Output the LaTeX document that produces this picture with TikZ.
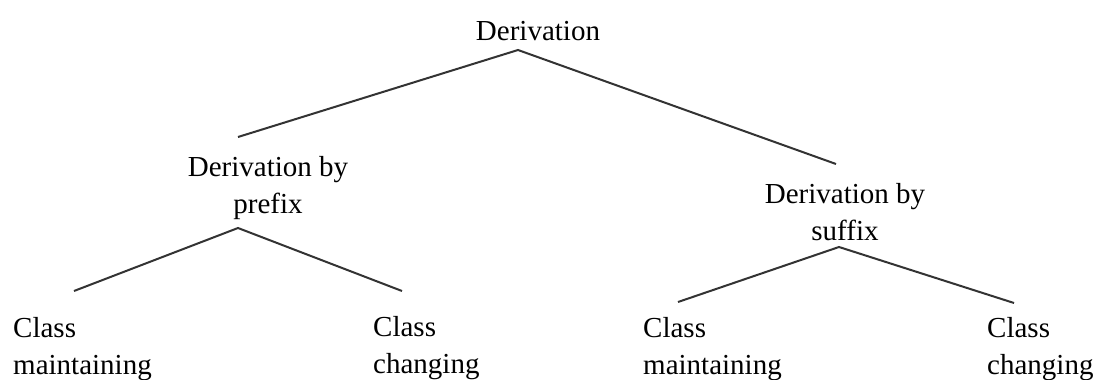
\documentclass[tikz,border=0pt]{standalone}
\usepackage{fontspec}
\setmainfont{Liberation Serif}
\begin{document}
\begin{tikzpicture}[x=1pt,y=-1pt,
  lbl/.style={inner sep=0pt, font=\fontsize{29}{37}\selectfont},
  edge/.style={line width=2pt, draw=black!80}]
\useasboundingbox (0,0) rectangle (1101,380);
\clip (0,0) rectangle (1101,380);
% texts (anchor=base is the baseline of the last line)
\node[lbl, anchor=base] (root) at (538,40) {Derivation};
\node[lbl, anchor=base, align=center] (pre) at (268,213) {Derivation by\\prefix};
\node[lbl, anchor=base, align=center] (suf) at (845,240) {Derivation by\\suffix};
\node[lbl, anchor=base west, align=left] (pm) at (13,374) {Class\\maintaining};
\node[lbl, anchor=base west, align=left] (pc) at (373,373) {Class\\changing};
\node[lbl, anchor=base west, align=left] (sm) at (643,374) {Class\\maintaining};
\node[lbl, anchor=base west, align=left] (sc) at (987,374) {Class\\changing};
% connector ends
\coordinate (rA) at (518,50);
\coordinate (preT) at (238,137);
\coordinate (sufT) at (836,164);
\coordinate (preA) at (238,228);
\coordinate (pmT) at (74,291);
\coordinate (pcT) at (402,291);
\coordinate (sufA) at (839,247);
\coordinate (smT) at (678,302);
\coordinate (scT) at (1014,303);
\draw[edge] (preT) -- (rA) -- (sufT);
\draw[edge] (pmT) -- (preA) -- (pcT);
\draw[edge] (smT) -- (sufA) -- (scT);
\end{tikzpicture}
\end{document}
